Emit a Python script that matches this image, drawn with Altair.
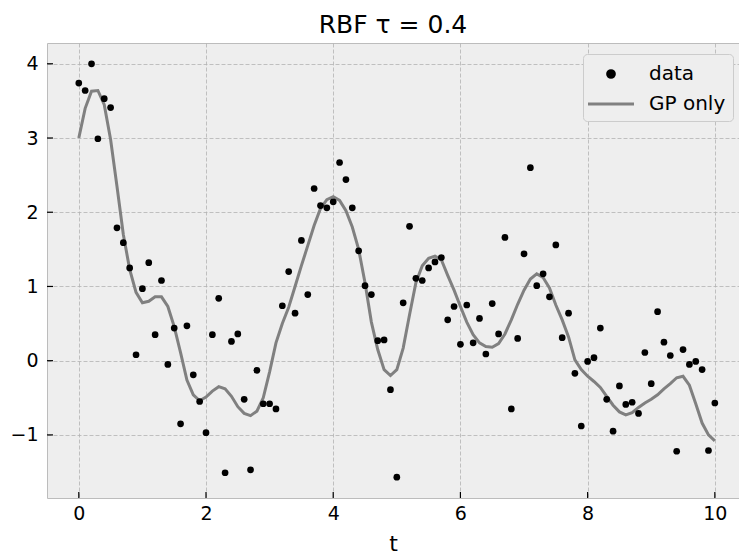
import altair as alt
import pandas as pd

t_vals = [0.0, 0.1, 0.2, 0.3, 0.4, 0.5, 0.6, 0.7, 0.8, 0.9,
          1.0, 1.1, 1.2, 1.3, 1.4, 1.5, 1.6, 1.7, 1.8, 1.9,
          2.0, 2.1, 2.2, 2.3, 2.4, 2.5, 2.6, 2.7, 2.8, 2.9,
          3.0, 3.1, 3.2, 3.3, 3.4, 3.5, 3.6, 3.7, 3.8, 3.9,
          4.0, 4.1, 4.2, 4.3, 4.4, 4.5, 4.6, 4.7, 4.8, 4.9,
          5.0, 5.1, 5.2, 5.3, 5.4, 5.5, 5.6, 5.7, 5.8, 5.9,
          6.0, 6.1, 6.2, 6.3, 6.4, 6.5, 6.6, 6.7, 6.8, 6.9,
          7.0, 7.1, 7.2, 7.3, 7.4, 7.5, 7.6, 7.7, 7.8, 7.9,
          8.0, 8.1, 8.2, 8.3, 8.4, 8.5, 8.6, 8.7, 8.8, 8.9,
          9.0, 9.1, 9.2, 9.3, 9.4, 9.5, 9.6, 9.7, 9.8, 9.9, 10.0]

data_y = [3.74, 3.64, 4.00, 2.99, 3.53, 3.41, 1.79, 1.59, 1.25, 0.08,
          0.97, 1.32, 0.35, 1.08, -0.05, 0.44, -0.85, 0.47, -0.19, -0.55,
          -0.97, 0.35, 0.84, -1.51, 0.26, 0.36, -0.52, -1.47, -0.13, -0.58,
          -0.58, -0.65, 0.74, 1.20, 0.64, 1.62, 0.89, 2.32, 2.09, 2.06,
          2.14, 2.67, 2.44, 2.06, 1.48, 1.01, 0.89, 0.27, 0.28, -0.39,
          -1.57, 0.78, 1.81, 1.11, 1.08, 1.25, 1.33, 1.39, 0.55, 0.73,
          0.22, 0.75, 0.24, 0.57, 0.09, 0.77, 0.36, 1.66, -0.65, 0.30,
          1.44, 2.60, 1.01, 1.17, 0.86, 1.56, 0.31, 0.64, -0.17, -0.88,
          -0.01, 0.04, 0.44, -0.52, -0.95, -0.34, -0.59, -0.56, -0.71, 0.11,
          -0.31, 0.66, 0.25, 0.07, -1.22, 0.15, -0.05, -0.01, -0.12, -1.21, -0.57]

gp_y = [3.00, 3.40, 3.63, 3.64, 3.45, 2.98, 2.35, 1.70, 1.23, 0.92,
        0.78, 0.80, 0.86, 0.86, 0.73, 0.46, 0.11, -0.26, -0.46, -0.54,
        -0.49, -0.41, -0.35, -0.38, -0.48, -0.62, -0.71, -0.74, -0.68, -0.50,
        -0.15, 0.24, 0.50, 0.72, 1.00, 1.28, 1.55, 1.82, 2.05, 2.17,
        2.21, 2.16, 2.02, 1.80, 1.50, 1.05, 0.52, 0.15, -0.12, -0.20,
        -0.12, 0.17, 0.62, 1.05, 1.28, 1.38, 1.41, 1.36, 1.15, 0.95,
        0.73, 0.52, 0.35, 0.24, 0.19, 0.18, 0.23, 0.36, 0.55, 0.76,
        0.95, 1.10, 1.17, 1.12, 0.98, 0.75, 0.55, 0.32, 0.01, -0.12,
        -0.21, -0.28, -0.36, -0.48, -0.60, -0.69, -0.73, -0.70, -0.63, -0.57,
        -0.52, -0.46, -0.38, -0.31, -0.23, -0.21, -0.33, -0.58, -0.84, -1.00, -1.08]

x_ticks = [0, 2, 4, 6, 8, 10]
y_ticks = [-1, 0, 1, 2, 3, 4]
series_names = ["data", "GP only"]

W, H = 692, 455
FONT = "DejaVu Sans"

pts = pd.DataFrame({"t": t_vals, "y": data_y, "series": series_names[0]})
gp = pd.DataFrame({"t": t_vals, "y": gp_y, "series": series_names[1]})
xt = pd.DataFrame({"v": x_ticks})
yt = pd.DataFrame({"v": y_ticks})

xscale = alt.Scale(domain=[-0.5, 10.38], nice=False, zero=False)
yscale = alt.Scale(domain=[-1.85, 4.28], nice=False, zero=False)

xaxis = alt.Axis(values=x_ticks, title="t", grid=True, ticks=False, domain=False,
                 labelFontSize=19, labelPadding=6, titleFontSize=22,
                 titleFontWeight="normal", titlePadding=10, format="d")
yaxis = alt.Axis(values=y_ticks, title=None, grid=True, ticks=False, domain=False,
                 labelFontSize=19, labelPadding=9, format="d")

is_data = "datum.value === 'data'"
color = alt.Color(
    "series:N",
    scale=alt.Scale(domain=series_names, range=["black", "gray"]),
    legend=alt.Legend(
        title=None, orient="none", legendX=536, legendY=11,
        labelFontSize=20, labelFont=FONT, labelColor="black",
        fillColor="#eeeeee", strokeColor="#cccccc", cornerRadius=4,
        padding=7, rowPadding=7, labelOffset=25, symbolOffset=8,
        symbolType={"expr": f"{is_data} ? 'circle' : 'M-2,0H2'"},
        symbolSize={"expr": f"{is_data} ? 45 : 529"},
        symbolFillColor={"expr": f"{is_data} ? 'black' : 'transparent'"},
        symbolStrokeColor={"expr": f"{is_data} ? 'transparent' : 'gray'"},
        symbolStrokeWidth=3,
        symbolOpacity=1,
    ),
)

points = alt.Chart(pts).mark_circle(size=45, opacity=1).encode(
    x=alt.X("t:Q", scale=xscale, axis=xaxis),
    y=alt.Y("y:Q", scale=yscale, axis=yaxis),
    color=color,
)

line = alt.Chart(gp).mark_line(strokeWidth=3).encode(
    x=alt.X("t:Q", scale=xscale),
    y=alt.Y("y:Q", scale=yscale),
    color=color,
)

xtick_marks = alt.Chart(xt).mark_rule(color="black", strokeWidth=1.2).encode(
    x=alt.X("v:Q", scale=xscale),
    y=alt.value(H - 6), y2=alt.value(H),
)
ytick_marks = alt.Chart(yt).mark_rule(color="black", strokeWidth=1.2).encode(
    y=alt.Y("v:Q", scale=yscale),
    x=alt.value(0), x2=alt.value(6),
)

chart = alt.layer(line, points, xtick_marks, ytick_marks).properties(
    width=W, height=H,
    title=alt.TitleParams("RBF τ = 0.4", fontSize=25, font=FONT, fontWeight="normal",
                          anchor="middle", offset=7, baseline="bottom", frame="group",
                          dy=27, color="black"),
    autosize=alt.AutoSizeParams(type="none"),
    padding={"left": 47, "top": 43, "right": 0, "bottom": 60},
    background="white",
).configure_view(
    fill="#eeeeee", stroke="#bcbcbc", strokeWidth=1,
).configure_axis(
    gridColor="#b2b2b2", gridDash=[4, 2], gridWidth=0.8,
    labelFont=FONT, titleFont=FONT, labelColor="black", titleColor="black",
)

chart.save("out.html", embed_options={"renderer": "svg", "actions": False})
